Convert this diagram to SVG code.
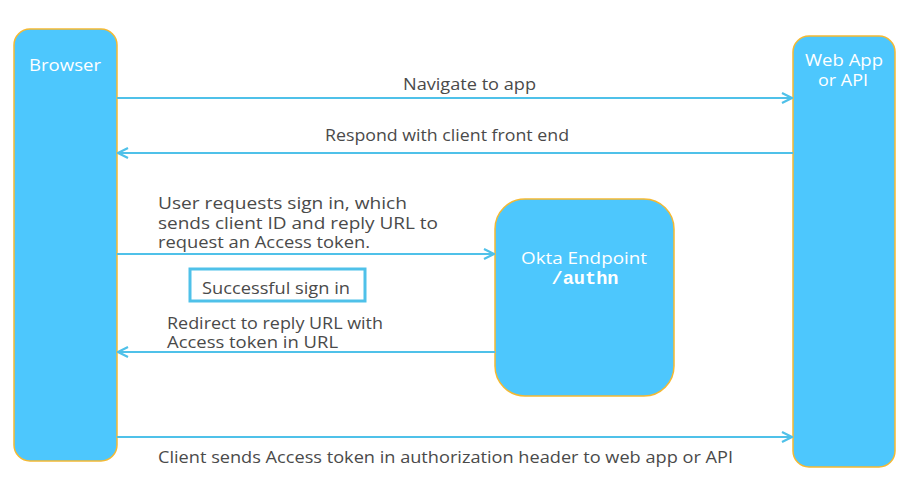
<svg xmlns="http://www.w3.org/2000/svg" width="923" height="492" viewBox="0 0 923 492">
<style>
.node{fill:#4DC7FD;stroke:#F5B932;stroke-width:1.5}
.nl{font-family:"Open Sans",Lato,sans-serif;font-size:17px;fill:#ffffff}
.lbl{font-family:"Open Sans",Lato,sans-serif;font-size:16px;fill:#4a4a4a}
.conn{stroke:#4FC1E9;stroke-width:2;fill:none}
.mono{font-family:"Liberation Mono",monospace;font-weight:bold;font-size:18px;fill:#ffffff}
</style>
<defs>
<marker id="ah" viewBox="0 0 12 12" refX="11" refY="6" markerWidth="12" markerHeight="12" markerUnits="userSpaceOnUse" orient="auto">
<path d="M1,1 L11,6 L1,11" fill="none" stroke="#4FC1E9" stroke-width="2.2"/>
</marker>
</defs>
<rect width="923" height="492" fill="#ffffff"/>
<g id="browser">
<rect class="node" x="14" y="29" width="103" height="432" rx="16"/>
<text class="nl" x="65" y="71" text-anchor="middle" textLength="72" lengthAdjust="spacingAndGlyphs">Browser</text>
</g>
<g id="webapp">
<rect class="node" x="793" y="36" width="102" height="431" rx="16"/>
<text class="nl" x="844" y="66" text-anchor="middle" textLength="78" lengthAdjust="spacingAndGlyphs">Web App</text>
<text class="nl" x="843" y="86" text-anchor="middle" textLength="50" lengthAdjust="spacingAndGlyphs">or API</text>
</g>
<g id="okta">
<rect class="node" x="495" y="199" width="179" height="197" rx="30"/>
<text class="nl" x="584" y="264" text-anchor="middle" textLength="126" lengthAdjust="spacingAndGlyphs">Okta Endpoint</text>
<text class="mono" x="585" y="284" text-anchor="middle" textLength="67" lengthAdjust="spacingAndGlyphs">/authn</text>
</g>
<g id="success">
<rect x="190" y="269" width="175" height="32" fill="#ffffff" stroke="#4FC1E9" stroke-width="3"/>
<text class="lbl" x="276" y="294" text-anchor="middle" textLength="148" lengthAdjust="spacingAndGlyphs">Successful sign in</text>
</g>
<g id="connectors">
<line class="conn" x1="117" y1="98" x2="792" y2="98" marker-end="url(#ah)"/>
<line class="conn" x1="793" y1="153" x2="118" y2="153" marker-end="url(#ah)"/>
<line class="conn" x1="117" y1="254" x2="494" y2="254" marker-end="url(#ah)"/>
<line class="conn" x1="495" y1="352" x2="118" y2="352" marker-end="url(#ah)"/>
<line class="conn" x1="117" y1="437" x2="792" y2="437" marker-end="url(#ah)"/>
<text class="lbl" x="403" y="90" textLength="133" lengthAdjust="spacingAndGlyphs">Navigate to app</text>
<text class="lbl" x="325" y="141" textLength="244" lengthAdjust="spacingAndGlyphs">Respond with client front end</text>
<text class="lbl" x="158" y="209" textLength="249" lengthAdjust="spacingAndGlyphs">User requests sign in, which</text>
<text class="lbl" x="158" y="229" textLength="280" lengthAdjust="spacingAndGlyphs">sends client ID and reply URL to</text>
<text class="lbl" x="158" y="248" textLength="212" lengthAdjust="spacingAndGlyphs">request an Access token.</text>
<text class="lbl" x="167" y="329" textLength="216" lengthAdjust="spacingAndGlyphs">Redirect to reply URL with</text>
<text class="lbl" x="167" y="348" textLength="171" lengthAdjust="spacingAndGlyphs">Access token in URL</text>
<text class="lbl" x="158" y="463" textLength="575" lengthAdjust="spacingAndGlyphs">Client sends Access token in authorization header to web app or API</text>
</g>
</svg>
